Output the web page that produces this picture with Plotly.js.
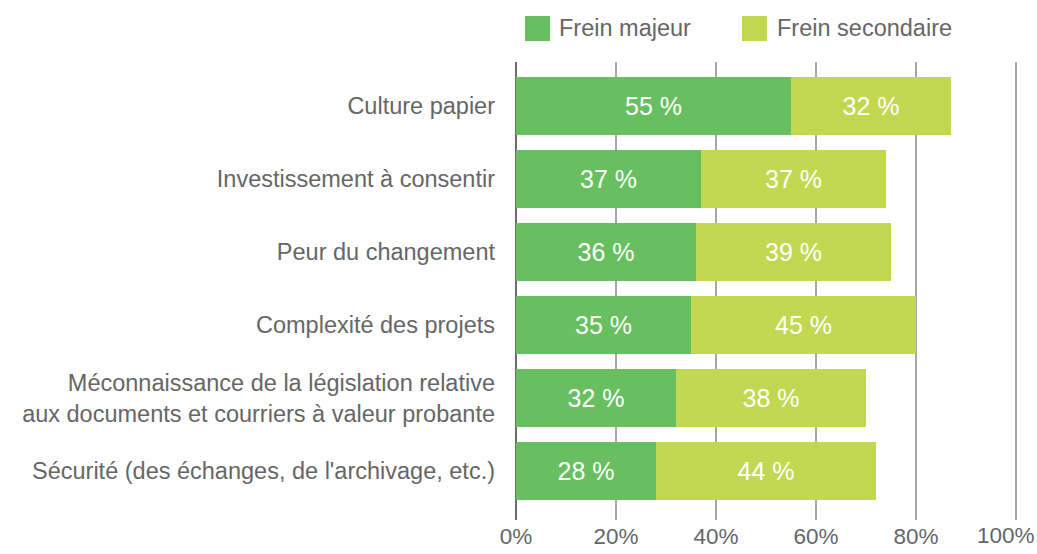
<!DOCTYPE html>
<html>
<head>
<meta charset="utf-8">
<script src="https://cdn.plot.ly/plotly-3.0.1.min.js"></script>
<style>html,body{margin:0;padding:0;background:#fff;}#chart{width:1037px;height:554px;}</style>
</head>
<body>
<div id="chart"></div>
<script>
const categories = [
  "Culture papier",
  "Investissement à consentir",
  "Peur du changement",
  "Complexité des projets",
  "Méconnaissance de la législation relative<br>aux documents et courriers à valeur probante",
  "Sécurité (des échanges, de l'archivage, etc.)"
];
const freinMajeur = [55, 37, 36, 35, 32, 28];
const freinSecondaire = [32, 37, 39, 45, 38, 44];
const seriesNames = ["Frein majeur", "Frein secondaire"];
const seriesColors = ["#67bf5f", "#c1d850"];
const tickVals = [0, 20, 40, 60, 80, 100];
const tickText = ["0%", "20%", "40%", "60%", "80%", "100%"];

const FONT = "Liberation Sans, Arial, Helvetica, sans-serif";
const GRAY = "#666666";

const W = 1037, H = 554;
const M = {l: 516, r: 18, t: 62, b: 34};
const PW = W - M.l - M.r, PH = H - M.t - M.b;
const px2x = p => (p - M.l) / PW;
const px2y = p => (H - M.b - p) / PH;

function barTrace(vals, name, color) {
  return {
    type: "bar",
    orientation: "h",
    y: categories,
    x: vals,
    name: name,
    marker: {color: color, line: {width: 0}},
    text: vals.map(v => v + " %"),
    textposition: "inside",
    insidetextanchor: "middle",
    textangle: 0,
    textfont: {family: FONT, size: 25, color: "#ffffff"},
    hoverinfo: "skip"
  };
}

const data = [
  barTrace(freinMajeur, seriesNames[0], seriesColors[0]),
  barTrace(freinSecondaire, seriesNames[1], seriesColors[1])
];

// custom legend (large square swatches)
const legendItems = [
  {sx: 525, tx: 557},
  {sx: 742, tx: 775}
];
const shapes = legendItems.map((it, i) => ({
  type: "rect", xref: "paper", yref: "paper",
  x0: px2x(it.sx), x1: px2x(it.sx + 25),
  y0: px2y(41), y1: px2y(16),
  fillcolor: seriesColors[i], line: {width: 0}
}));
const annotations = legendItems.map((it, i) => ({
  xref: "paper", yref: "paper",
  x: px2x(it.tx), y: px2y(28.5),
  xanchor: "left", yanchor: "middle",
  text: seriesNames[i], showarrow: false,
  font: {family: FONT, size: 23.5, color: GRAY}
}));
// last tick label kept inside the window (as in the reference, centred a little left of the edge)
const tickTextShown = tickText.map((t, i) => i === tickText.length - 1 ? "" : t);
annotations.push({
  xref: "paper", yref: "paper",
  x: px2x(1006), y: px2y(535),
  xanchor: "center", yanchor: "middle",
  text: tickText[tickText.length - 1], showarrow: false,
  font: {family: FONT, size: 22.5, color: GRAY}
});

const layout = {
  width: W,
  height: H,
  margin: {l: M.l, r: M.r, t: M.t, b: M.b, pad: 0},
  barmode: "stack",
  bargap: 0.2,
  paper_bgcolor: "#ffffff",
  plot_bgcolor: "#ffffff",
  font: {family: FONT, color: GRAY, size: 23.5},
  showlegend: false,
  shapes: shapes,
  annotations: annotations,
  xaxis: {
    range: [0, 100.6],
    tickvals: tickVals,
    ticktext: tickTextShown,
    showgrid: true,
    gridcolor: "#a6a6a8",
    gridwidth: 2,
    zeroline: true,
    zerolinecolor: "#6d6d6f",
    zerolinewidth: 2.5,
    showline: false,
    ticks: "",
    tickfont: {family: FONT, size: 22.5, color: GRAY},
    fixedrange: true
  },
  yaxis: {
    type: "category",
    autorange: false,
    range: [5.67, -0.603],
    showgrid: false,
    zeroline: false,
    showline: false,
    ticks: "",
    ticklabelstandoff: 20,
    tickfont: {family: FONT, size: 23.5, color: GRAY},
    fixedrange: true
  }
};

Plotly.newPlot("chart", data, layout, {displayModeBar: false, staticPlot: true});
</script>
</body>
</html>
